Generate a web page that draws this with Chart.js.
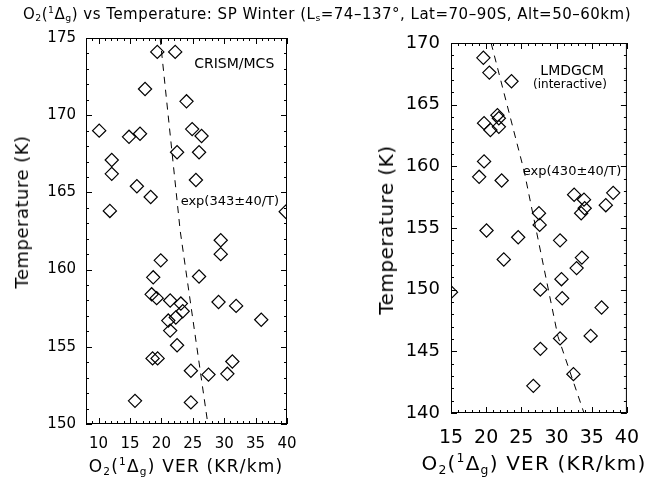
<!DOCTYPE html>
<html>
<head>
<meta charset="utf-8">
<script src="https://cdn.jsdelivr.net/npm/chart.js@4"></script>
<style>
  html, body { margin: 0; padding: 0; background: #fff; }
  body { width: 653px; height: 485px; position: relative; overflow: hidden; font-family: "DejaVu Sans", sans-serif; color: #000; }
  canvas { position: absolute; top: 0; }
  .txt { position: absolute; white-space: nowrap; line-height: 1; transform: translate(-50%, -50%); }
  .rot { transform: translate(-50%, -50%) rotate(-90deg); }
  sub { font-size: 0.62em; vertical-align: -0.32em; line-height: 0; }
  sup { font-size: 0.62em; vertical-align: 0.62em; line-height: 0; }
</style>
</head>
<body>
<canvas id="leftChart" width="310" height="485" style="left:0"></canvas>
<canvas id="rightChart" width="323" height="485" style="left:330px"></canvas>

<div class="txt" style="left:327px;top:14px;font-size:15px;letter-spacing:0.5px">O<sub>2</sub>(<sup>1</sup>Δ<sub>g</sub>) vs Temperature: SP Winter (L<sub>s</sub>=74–137°, Lat=70–90S, Alt=50–60km)</div>
<div class="txt rot" style="left:22px;top:212px;font-size:18px;letter-spacing:0.5px">Temperature (K)</div>
<div class="txt rot" style="left:386px;top:230px;font-size:20px;letter-spacing:0.5px">Temperature (K)</div>
<div class="txt" style="left:186px;top:466px;font-size:17px;letter-spacing:1.2px">O<sub>2</sub>(<sup>1</sup>Δ<sub>g</sub>) VER (KR/km)</div>
<div class="txt" style="left:534px;top:463px;font-size:20px;letter-spacing:1.2px">O<sub>2</sub>(<sup>1</sup>Δ<sub>g</sub>) VER (KR/km)</div>

<script>
// CRISM/MCS panel
const LEFT_VER = [19.35, 22.2, 17.4, 24.0, 10.1, 14.85, 16.6, 24.9, 26.4, 22.5, 26.0, 12.1, 12.1, 16.1, 18.3,
  25.5, 11.8, 39.8, 29.45, 29.45, 19.9, 18.7, 26.0, 18.45, 19.25, 21.4, 29.1, 31.9, 23.1, 23.4, 22.3,
  21.1, 21.4, 35.9, 22.5, 18.6, 19.4, 31.3, 24.7, 27.5, 30.5, 15.8, 24.7];
const LEFT_TEMP = [174.1, 174.1, 171.7, 170.9, 169.0, 168.6, 168.8, 169.1, 168.65, 167.6, 167.6, 167.1, 166.2, 165.4, 164.7,
  165.8, 163.8, 163.75, 161.9, 161.0, 160.6, 159.5, 159.55, 158.4, 158.15, 158.0, 157.9, 157.65, 157.8, 157.3, 156.9,
  156.7, 156.05, 156.75, 155.1, 154.25, 154.25, 154.05, 153.45, 153.2, 153.25, 151.5, 151.4];
const LEFT_FIT_VER = [19.8, 23.0, 27.4];
const LEFT_FIT_TEMP = [175, 162.5, 150];
const LEFT_X_TICKS = [10, 15, 20, 25, 30, 35, 40];
const LEFT_Y_TICKS = [150, 155, 160, 165, 170, 175];

// LMDGCM panel
const RIGHT_VER = [19.6, 20.45, 23.6, 21.6, 21.8, 19.7, 20.6, 21.8, 19.7, 19.0, 22.2, 27.5, 27.6, 32.5, 33.9,
  34.0, 33.5, 37.0, 38.05, 20.05, 24.55, 30.5, 22.5, 33.6, 32.85, 30.7, 27.7, 30.8, 15.0, 36.4, 30.5,
  34.85, 27.7, 32.4, 26.7];
const RIGHT_TEMP = [168.8, 167.6, 166.9, 164.15, 163.9, 163.5, 162.95, 163.2, 160.4, 159.15, 158.85, 156.2, 155.25, 157.7, 157.3,
  156.6, 156.2, 156.85, 157.85, 154.8, 154.25, 154.0, 152.45, 152.6, 151.75, 150.85, 150.0, 149.3, 149.8, 148.55, 146.05,
  146.25, 145.2, 143.15, 142.2];
const RIGHT_FIT_VER = [20.7, 25.4, 30.2, 33.9];
const RIGHT_FIT_TEMP = [170, 159.6, 146.2, 140];
const RIGHT_X_TICKS = [15, 20, 25, 30, 35, 40];
const RIGHT_Y_TICKS = [140, 145, 150, 155, 160, 165, 170];

const pts = (xs, ys) => xs.map((v, i) => ({ x: v, y: ys[i] }));

// box with inward ticks on all four sides, IDL style
const boxTicks = {
  id: "boxTicks",
  afterDatasetsDraw(chart) {
    const { ctx, chartArea: a, scales: { x, y } } = chart;
    ctx.save();
    ctx.strokeStyle = "#000";
    ctx.lineWidth = 1;
    ctx.strokeRect(a.left + 0.5, a.top + 0.5, a.right - a.left - 1, a.bottom - a.top - 1);
    ctx.beginPath();
    for (let v = Math.ceil(x.min); v <= x.max; v++) {
      const px = Math.round(x.getPixelForValue(v)) + 0.5;
      const len = x.ticks.some((t) => t.value === v) ? 6 : 3;
      ctx.moveTo(px, a.bottom); ctx.lineTo(px, a.bottom - len);
      ctx.moveTo(px, a.top); ctx.lineTo(px, a.top + len);
    }
    for (let v = Math.ceil(y.min); v <= y.max; v++) {
      const py = Math.round(y.getPixelForValue(v)) + 0.5;
      const len = y.ticks.some((t) => t.value === v) ? 6 : 3;
      ctx.moveTo(a.left, py); ctx.lineTo(a.left + len, py);
      ctx.moveTo(a.right, py); ctx.lineTo(a.right - len, py);
    }
    ctx.stroke();
    ctx.restore();
  },
};

// text notes placed in data coordinates
const notes = {
  id: "notes",
  afterDatasetsDraw(chart, args, opts) {
    const { ctx, scales: { x, y } } = chart;
    ctx.save();
    ctx.fillStyle = "#000";
    ctx.textAlign = "center";
    ctx.textBaseline = "middle";
    (opts.items || []).forEach((n) => {
      ctx.font = `${n.size}px "DejaVu Sans"`;
      ctx.fillText(n.text, x.getPixelForValue(n.x), y.getPixelForValue(n.y));
    });
    ctx.restore();
  },
};

function makePanel(id, cfg) {
  return new Chart(document.getElementById(id), {
    type: "scatter",
    data: {
      datasets: [
        {
          data: pts(cfg.ver, cfg.temp),
          pointStyle: "rectRot",
          pointRadius: 6.6,
          pointBorderWidth: 1.2,
          borderColor: "#000",
          backgroundColor: "rgba(0,0,0,0)",
          clip: 0,
        },
        {
          data: pts(cfg.fitVer, cfg.fitTemp),
          showLine: true,
          pointRadius: 0,
          borderColor: "#000",
          borderWidth: 1,
          borderDash: [7, 6],
          clip: 0,
        },
      ],
    },
    options: {
      responsive: false,
      animation: false,
      events: [],
      layout: { padding: cfg.padding },
      plugins: {
        legend: { display: false },
        tooltip: { enabled: false },
        notes: { items: cfg.notes },
      },
      scales: {
        x: {
          min: cfg.xMin, max: cfg.xMax,
          afterBuildTicks: (s) => { s.ticks = cfg.xTicks.map((v) => ({ value: v })); },
          afterFit: (s) => { s.height = cfg.xAxisH; },
          grid: { display: false, drawTicks: false },
          border: { display: false },
          ticks: { color: "#000", padding: cfg.xPad, maxRotation: 0, autoSkip: false,
            font: { family: "DejaVu Sans", size: cfg.xFont } },
        },
        y: {
          min: cfg.yMin, max: cfg.yMax,
          afterBuildTicks: (s) => { s.ticks = cfg.yTicks.map((v) => ({ value: v })); },
          afterFit: (s) => { s.width = cfg.yAxisW; },
          grid: { display: false, drawTicks: false },
          border: { display: false },
          ticks: { color: "#000", padding: cfg.yPad, autoSkip: false,
            font: { family: "DejaVu Sans", size: cfg.yFont } },
        },
      },
    },
    plugins: [boxTicks, notes],
  });
}

makePanel("leftChart", {
  ver: LEFT_VER, temp: LEFT_TEMP, fitVer: LEFT_FIT_VER, fitTemp: LEFT_FIT_TEMP,
  xMin: 8, xMax: 40, yMin: 150, yMax: 175, xTicks: LEFT_X_TICKS, yTicks: LEFT_Y_TICKS,
  padding: { top: 38, right: 23, bottom: 0, left: 0 },
  xAxisH: 61, yAxisW: 86, xPad: 11, yPad: 10, xFont: 15, yFont: 15,
  notes: [
    { text: "CRISM/MCS", x: 31.6, y: 173.3, size: 14 },
    { text: "exp(343±40/T)", x: 30.9, y: 164.4, size: 13 },
  ],
});

makePanel("rightChart", {
  ver: RIGHT_VER, temp: RIGHT_TEMP, fitVer: RIGHT_FIT_VER, fitTemp: RIGHT_FIT_TEMP,
  xMin: 15, xMax: 40, yMin: 140, yMax: 170, xTicks: RIGHT_X_TICKS, yTicks: RIGHT_Y_TICKS,
  padding: { top: 43, right: 25, bottom: 0, left: 0 },
  xAxisH: 72, yAxisW: 121, xPad: 14, yPad: 11, xFont: 19, yFont: 18,
  notes: [
    { text: "LMDGCM", x: 32.2, y: 167.7, size: 14 },
    { text: "(interactive)", x: 31.9, y: 166.6, size: 12 },
    { text: "exp(430±40/T)", x: 32.2, y: 159.6, size: 13 },
  ],
});
</script>
</body>
</html>
